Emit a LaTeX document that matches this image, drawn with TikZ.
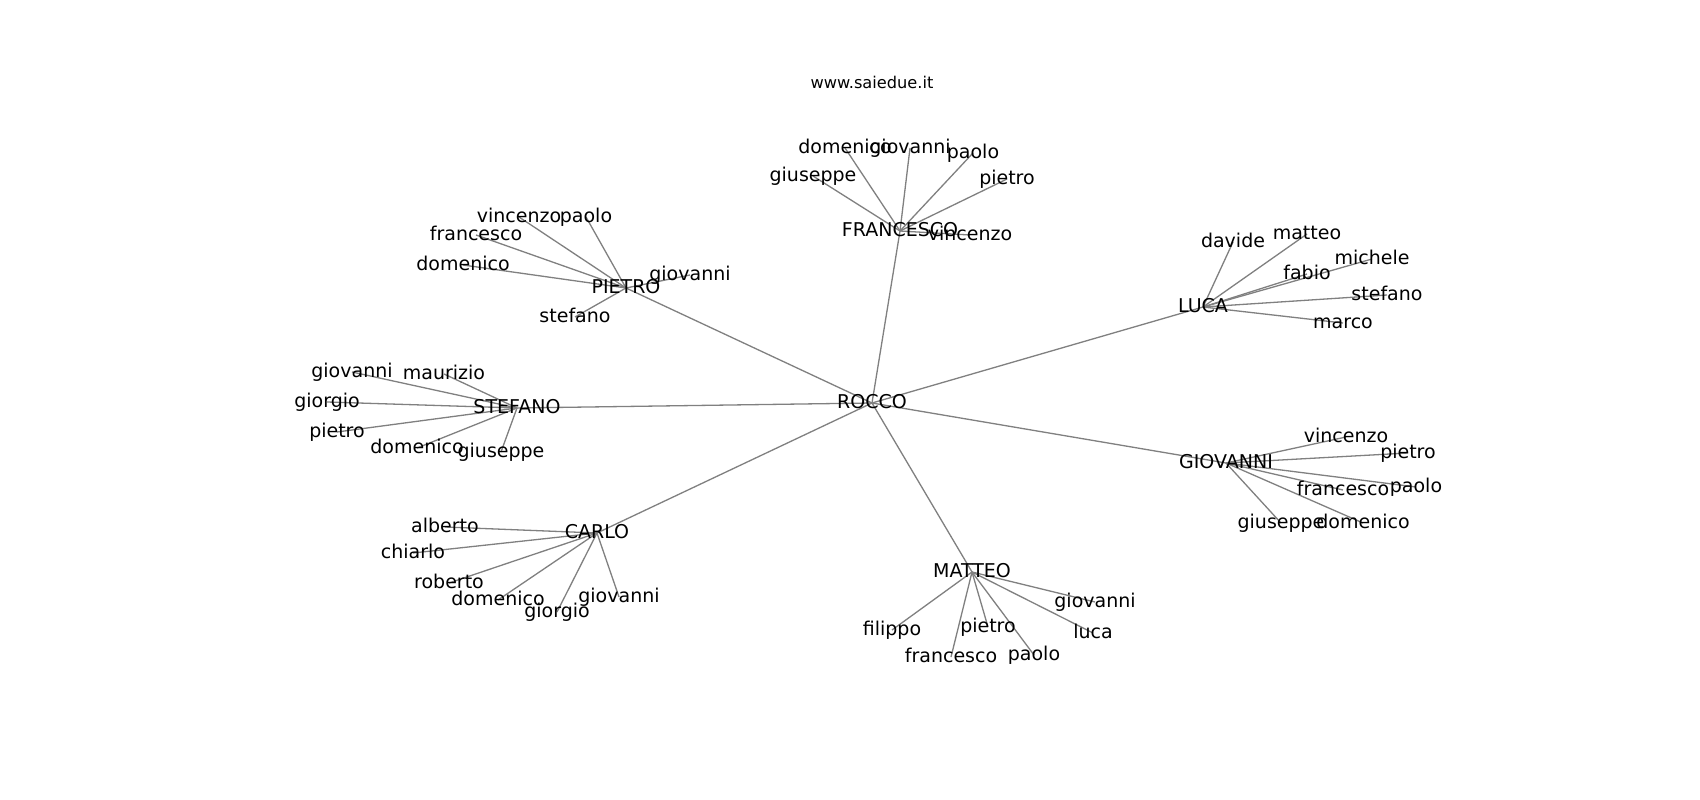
\documentclass[tikz,border=0pt]{standalone}
\usepackage{fontspec}
\setmainfont{DejaVu Sans}
\usetikzlibrary{backgrounds}
\newcommand\lblfont{\fontsize{19}{23}\selectfont}
\newcommand\ttlfont{\fontsize{16.2}{19}\selectfont}
\tikzset{
  lbl/.style={font=\lblfont, inner sep=0pt, text height=11.4pt, text depth=0pt, anchor=center},
  ttl/.style={font=\ttlfont, inner sep=0pt, text height=10.6pt, text depth=0pt},
  edge/.style={draw={rgb,255:red,128;green,128;blue,128}, line width=1.3pt}
}
\begin{document}
\begin{tikzpicture}[x=1pt,y=-1pt]
\useasboundingbox (0,0) rectangle (1700,800);
\node[ttl] (title) at (872,83) {www.saiedue.it};
% hubs
\node[lbl] (rocco) at (872,403) {ROCCO};
\node[lbl] (fra) at (900,231) {FRANCESCO};
\node[lbl] (pie) at (626,288) {PIETRO};
\node[lbl] (ste) at (517,408) {STEFANO};
\node[lbl] (car) at (597,533) {CARLO};
\node[lbl] (mat) at (972,572) {MATTEO};
\node[lbl] (luc) at (1203,307) {LUCA};
\node[lbl] (gio) at (1226,463) {GIOVANNI};
% FRANCESCO
\node[lbl] (fra_dom) at (845,148) {domenico};
\node[lbl] (fra_gio) at (910,148) {giovanni};
\node[lbl] (fra_pao) at (973,153) {paolo};
\node[lbl] (fra_pie) at (1007,179) {pietro};
\node[lbl] (fra_giu) at (813,176) {giuseppe};
\node[lbl] (fra_vin) at (970,235) {vincenzo};
% PIETRO
\node[lbl] (pie_vin) at (519,217) {vincenzo};
\node[lbl] (pie_pao) at (586,217) {paolo};
\node[lbl] (pie_fra) at (476,235) {francesco};
\node[lbl] (pie_dom) at (463,265) {domenico};
\node[lbl] (pie_ste) at (575,317) {stefano};
\node[lbl] (pie_gio) at (690,275) {giovanni};
% STEFANO
\node[lbl] (ste_gio) at (352,372) {giovanni};
\node[lbl] (ste_mau) at (444,374) {maurizio};
\node[lbl] (ste_gior) at (327,402) {giorgio};
\node[lbl] (ste_pie) at (337,432) {pietro};
\node[lbl] (ste_dom) at (417,448) {domenico};
\node[lbl] (ste_giu) at (501,452) {giuseppe};
% CARLO
\node[lbl] (car_alb) at (445,527) {alberto};
\node[lbl] (car_chi) at (413,553) {chiarlo};
\node[lbl] (car_rob) at (449,583) {roberto};
\node[lbl] (car_dom) at (498,600) {domenico};
\node[lbl] (car_gior) at (557,612) {giorgio};
\node[lbl] (car_gio) at (619,597) {giovanni};
% MATTEO
\node[lbl] (mat_gio) at (1095,602) {giovanni};
\node[lbl] (mat_fil) at (892,630) {filippo};
\node[lbl] (mat_pie) at (988,627) {pietro};
\node[lbl] (mat_luc) at (1093,633) {luca};
\node[lbl] (mat_fra) at (951,657) {francesco};
\node[lbl] (mat_pao) at (1034,655) {paolo};
% LUCA
\node[lbl] (luc_dav) at (1233,242) {davide};
\node[lbl] (luc_mat) at (1307,234) {matteo};
\node[lbl] (luc_mic) at (1372,259) {michele};
\node[lbl] (luc_fab) at (1307,274) {fabio};
\node[lbl] (luc_ste) at (1387,295) {stefano};
\node[lbl] (luc_mar) at (1343,323) {marco};
% GIOVANNI
\node[lbl] (gio_vin) at (1346,437) {vincenzo};
\node[lbl] (gio_pie) at (1408,453) {pietro};
\node[lbl] (gio_pao) at (1416,487) {paolo};
\node[lbl] (gio_fra) at (1343,490) {francesco};
\node[lbl] (gio_giu) at (1281,523) {giuseppe};
\node[lbl] (gio_dom) at (1363,523) {domenico};
\begin{pgfonlayer}{background}
\fill[white] (0,0) rectangle (1700,800);
\foreach \h in {fra,pie,ste,car,mat,luc,gio}
  \draw[edge] (rocco.center) -- (\h.center);
\foreach \c in {dom,gio,pao,pie,giu,vin}
  \draw[edge] (fra.center) -- (fra_\c.center);
\foreach \c in {vin,pao,fra,dom,ste,gio}
  \draw[edge] (pie.center) -- (pie_\c.center);
\foreach \c in {gio,mau,gior,pie,dom,giu}
  \draw[edge] (ste.center) -- (ste_\c.center);
\foreach \c in {alb,chi,rob,dom,gior,gio}
  \draw[edge] (car.center) -- (car_\c.center);
\foreach \c in {gio,fil,pie,luc,fra,pao}
  \draw[edge] (mat.center) -- (mat_\c.center);
\foreach \c in {dav,mat,mic,fab,ste,mar}
  \draw[edge] (luc.center) -- (luc_\c.center);
\foreach \c in {vin,pie,pao,fra,giu,dom}
  \draw[edge] (gio.center) -- (gio_\c.center);
\end{pgfonlayer}
\end{tikzpicture}
\end{document}
